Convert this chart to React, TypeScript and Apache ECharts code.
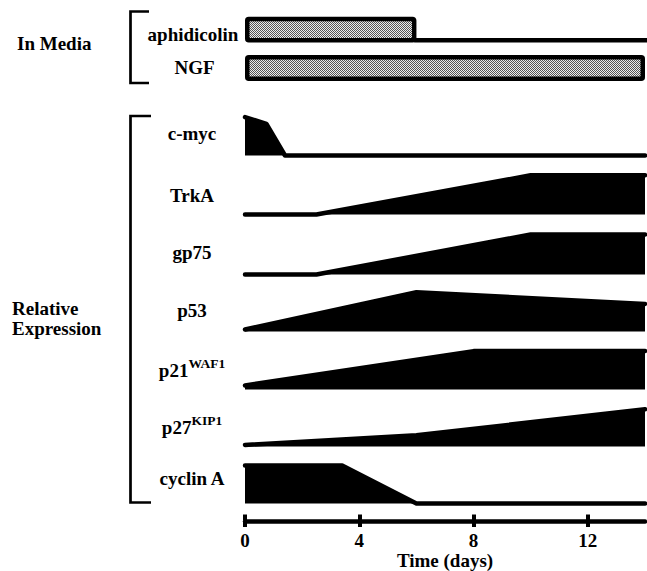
import React, { useEffect, useRef } from 'react';
import * as echarts from 'echarts';

// ---------- data ----------
const mediaNames = ['aphidicolin', 'NGF'];
const mediaStart = [0, 0];
const mediaEnd = [6, 14];

const geneNames = ['c-myc', 'TrkA', 'gp75', 'p53', 'p21', 'p27', 'cyclin A'];
const geneSup = ['', '', '', '', 'WAF1', 'KIP1', ''];

// [day, relative level]
const cMyc = [[0, 0.96], [0.75, 0.79], [1.4, 0], [14, 0]];
const trkA = [[0, 0], [2.5, 0], [10, 0.98], [14, 0.98]];
const gp75 = [[0, 0], [2.5, 0], [10, 1.0], [14, 1.0]];
const p53 = [[0, 0.05], [6, 0.98], [14, 0.69]];
const p21 = [[0, 0.1], [8, 0.96], [14, 0.96]];
const p27 = [[0, 0.04], [6, 0.28], [14, 0.93]];
const cyclinA = [[0, 0.95], [3.4, 0.95], [6, 0], [14, 0]];
const geneSeries = [cMyc, trkA, gp75, p53, p21, p27, cyclinA];

const timeTicks = [0, 4, 8, 12];
const timeMin = 0;
const timeMax = 14;

// ---------- layout ----------
const FONT = "'Liberation Serif', 'Times New Roman', serif";
const PLOT_LEFT = 245;
const PLOT_RIGHT = 2;
const ROW_H = 40;
const rowBase = [155.5, 214.5, 274.5, 331.5, 389.5, 446.5, 503.5];
const labelY = [133.6, 195.3, 252.6, 310.3, 370.5, 427.6, 478.6];
const LABEL_X = 192;
const mediaLabelPos = [[193, 34.3], [194.5, 67.6]];
const SW = 4.5;
const MAIN_SIZE = 19;
const SUP_SIZE = 13.5;
const SUP_RAISE = 7.5;

export default function App() {
  const ref = useRef<HTMLDivElement>(null);

  useEffect(() => {
    if (!ref.current) return;
    const chart = echarts.init(ref.current, undefined, { renderer: 'svg' });

    const cv = document.createElement('canvas');
    cv.width = 2;
    cv.height = 2;
    const ctx = cv.getContext('2d');
    if (ctx) {
      ctx.fillStyle = '#eeeeee';
      ctx.fillRect(0, 0, 2, 2);
      ctx.fillStyle = '#555555';
      ctx.fillRect(0, 0, 1, 1);
      ctx.fillRect(1, 1, 1, 1);
    }
    const pattern: any = { image: cv, repeat: 'repeat', imageWidth: 2, imageHeight: 2 };

    const mc = document.createElement('canvas').getContext('2d');
    const measure = (t: string, size: number) => {
      if (!mc) return t.length * size * 0.5;
      mc.font = `bold ${size}px ${FONT}`;
      return mc.measureText(t).width;
    };

    const grids: any[] = [];
    const xAxes: any[] = [];
    const yAxes: any[] = [];
    const series: any[] = [];

    // media grid (index 0)
    grids.push({ left: PLOT_LEFT, right: PLOT_RIGHT, top: 10.4, height: 76.8 });
    xAxes.push({ type: 'value', gridIndex: 0, min: timeMin, max: timeMax, show: false });
    yAxes.push({ type: 'category', gridIndex: 0, data: mediaNames, inverse: true, show: false });
    series.push({
      type: 'custom',
      xAxisIndex: 0,
      yAxisIndex: 0,
      clip: false,
      silent: true,
      data: mediaNames.map((_, i) => [mediaStart[i], mediaEnd[i], i]),
      encode: { x: [0, 1], y: 2 },
      renderItem: (params: any, api: any) => {
        const s = api.value(0);
        const e = api.value(1);
        const c = api.value(2);
        const a = api.coord([s, c]);
        const b = api.coord([e, c]);
        const band = api.size([0, 1])[1];
        const h = band * 0.555;
        const top = a[1] - h / 2;
        const bot = a[1] + h / 2;
        const children: any[] = [
          {
            type: 'rect',
            shape: { x: a[0] + SW / 2, y: top, width: b[0] - a[0] - SW, height: h, r: 1.5 },
            style: { fill: pattern, stroke: '#000', lineWidth: SW },
          },
        ];
        if (e < timeMax) {
          const end = api.coord([timeMax, c]);
          children.push({
            type: 'line',
            shape: { x1: b[0] - SW / 2, y1: bot, x2: end[0] + 2, y2: bot },
            style: { stroke: '#000', lineWidth: SW },
          });
        }
        return { type: 'group', children };
      },
    });

    // gene grids (1..7)
    geneSeries.forEach((d, i) => {
      const gi = i + 1;
      grids.push({ left: PLOT_LEFT, right: PLOT_RIGHT, top: rowBase[i] - ROW_H, height: ROW_H });
      xAxes.push({ type: 'value', gridIndex: gi, min: timeMin, max: timeMax, show: false });
      yAxes.push({ type: 'value', gridIndex: gi, min: 0, max: 1, show: false });
      series.push({
        type: 'line',
        name: geneNames[i],
        xAxisIndex: gi,
        yAxisIndex: gi,
        data: d,
        symbol: 'none',
        clip: false,
        silent: true,
        lineStyle: { color: '#000', width: SW, cap: 'round', join: 'round' },
        areaStyle: { color: '#000', opacity: 1 },
      });
    });

    // time axis grid
    const tg = geneSeries.length + 1;
    grids.push({ left: PLOT_LEFT, right: PLOT_RIGHT, top: 520.5, height: 1 });
    xAxes.push({
      type: 'value',
      gridIndex: tg,
      position: 'bottom',
      min: timeMin,
      max: timeMax,
      splitLine: { show: false },
      axisLine: { show: true, lineStyle: { color: '#000', width: SW, cap: 'round' } },
      axisTick: { show: true, customValues: timeTicks, length: 6, lineStyle: { color: '#000', width: 4 } },
      axisLabel: {
        show: true,
        customValues: timeTicks,
        margin: 10,
        color: '#000',
        fontSize: 19,
        fontWeight: 'bold',
        fontFamily: FONT,
      },
      name: 'Time (days)',
      nameLocation: 'middle',
      nameGap: 30,
      nameTextStyle: { color: '#000', fontSize: 19, fontWeight: 'bold', fontFamily: FONT },
    });
    xAxes.push({
      type: 'value',
      gridIndex: tg,
      position: 'top',
      min: timeMin,
      max: timeMax,
      splitLine: { show: false },
      axisLine: { show: false },
      axisTick: { show: true, customValues: timeTicks, length: 6, lineStyle: { color: '#000', width: 4 } },
      axisLabel: { show: false },
    });
    yAxes.push({ type: 'value', gridIndex: tg, min: 0, max: 1, show: false });

    const textStyle = (extra: any) => ({
      fill: '#000',
      fontSize: MAIN_SIZE,
      fontWeight: 'bold',
      fontFamily: FONT,
      ...extra,
    });

    const graphic: any[] = [
      { type: 'text', style: textStyle({ text: 'In Media', x: 17, y: 43.6, align: 'left', verticalAlign: 'middle' }) },
      {
        type: 'text',
        style: textStyle({ text: 'Relative\nExpression', x: 12, y: 318.3, align: 'left', verticalAlign: 'middle', lineHeight: 19.5 }),
      },
      {
        type: 'polyline',
        shape: { points: [[149, 11.5], [130.5, 11.5], [130.5, 83], [149, 83]] },
        style: { stroke: '#000', lineWidth: 2.7, fill: 'none' },
      },
      {
        type: 'polyline',
        shape: { points: [[151, 116], [130.5, 116], [130.5, 502.5], [151, 502.5]] },
        style: { stroke: '#000', lineWidth: 2.7, fill: 'none' },
      },
    ];
    mediaNames.forEach((n, i) => {
      graphic.push({
        type: 'text',
        style: textStyle({ text: n, x: mediaLabelPos[i][0], y: mediaLabelPos[i][1], align: 'center', verticalAlign: 'middle' }),
      });
    });
    geneNames.forEach((n, i) => {
      const sup = geneSup[i];
      if (sup) {
        const wMain = measure(n, MAIN_SIZE);
        const wSup = measure(sup, SUP_SIZE);
        const left = LABEL_X - (wMain + wSup) / 2;
        graphic.push({
          type: 'text',
          style: textStyle({ text: n, x: left, y: labelY[i], align: 'left', verticalAlign: 'middle' }),
        });
        graphic.push({
          type: 'text',
          style: textStyle({
            text: sup,
            x: left + wMain,
            y: labelY[i] - SUP_RAISE,
            align: 'left',
            verticalAlign: 'middle',
            fontSize: SUP_SIZE,
          }),
        });
      } else {
        graphic.push({
          type: 'text',
          style: textStyle({ text: n, x: LABEL_X, y: labelY[i], align: 'center', verticalAlign: 'middle' }),
        });
      }
    });

    chart.setOption({
      animation: false,
      backgroundColor: '#fff',
      grid: grids,
      xAxis: xAxes,
      yAxis: yAxes,
      series,
      graphic,
    });

    return () => chart.dispose();
  }, []);

  return (
    <div
      ref={ref}
      style={{ position: 'absolute', left: 0, top: 0, width: 647, height: 571 }}
    />
  );
}
